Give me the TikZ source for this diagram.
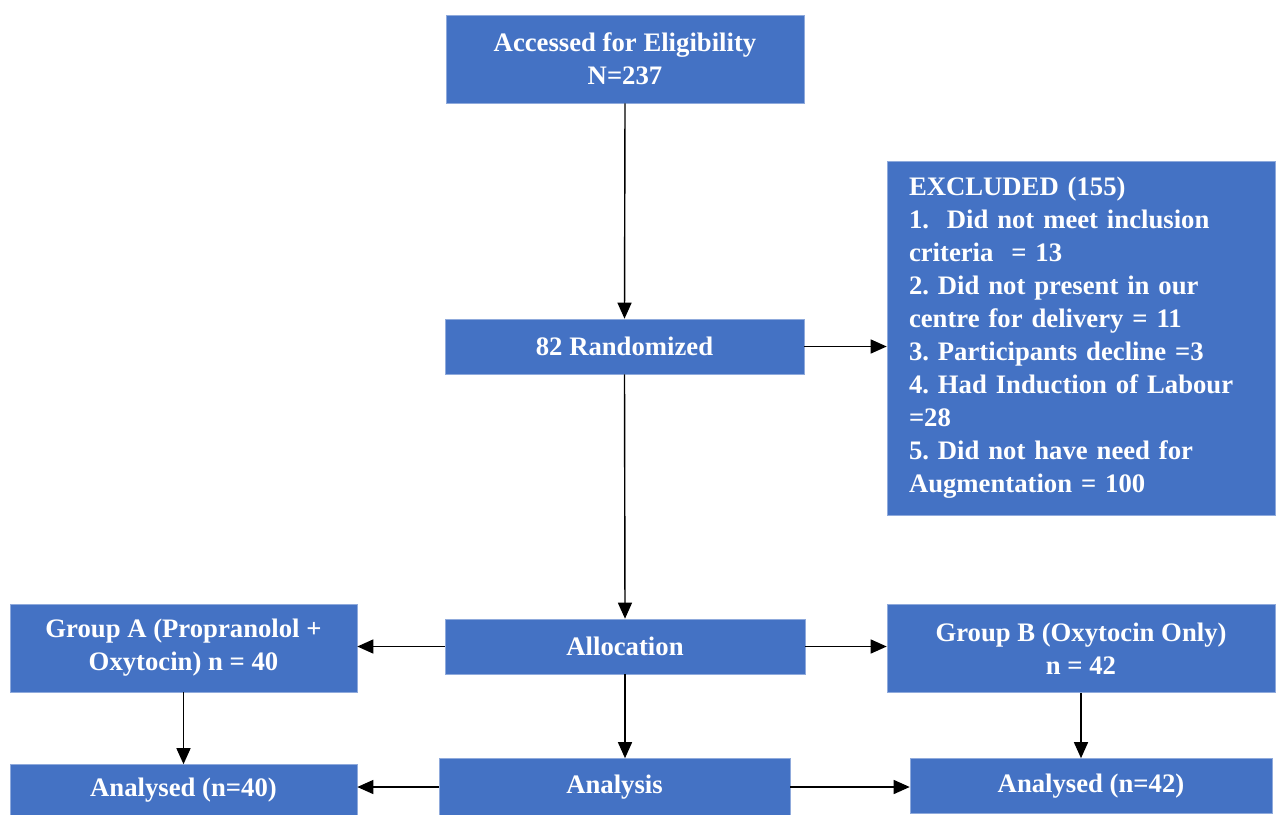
\documentclass[tikz,border=0pt]{standalone}
\usepackage{fontspec}
\setmainfont{Liberation Serif}
\usetikzlibrary{arrows.meta, positioning}
\definecolor{boxblue}{HTML}{4472C4}
\definecolor{boxedge}{HTML}{8FAADC}
\frenchspacing

\begin{document}
\begin{tikzpicture}[x=1pt, y=-1pt,
  font=\fontsize{26.7}{33}\selectfont\bfseries,
  box/.style={rectangle, fill=boxblue, draw=boxedge, line width=0.6pt,
    text=white, align=center, inner sep=0pt},
  arr/.style={-{Triangle[length=16pt, width=14pt]}, line width=1.4pt}]
  \useasboundingbox (0,0) rectangle (1276,814);
  % main column
  \node[box, minimum width=358pt, minimum height=88pt] (acc) at (625,59)
    {Accessed for Eligibility\\N=237};
  \node[box, minimum width=359pt, minimum height=55pt] (rand) at (624.5,346.5)
    {82 Randomized};
  \node[box, minimum width=360pt, minimum height=55pt] (alloc) at (625,646.5)
    {Allocation};
  \node[box, minimum width=351pt, minimum height=57pt] (ana) at (614.5,787)
    {Analysis};
  % exclusions
  \node[box, align=left, text width=344pt, inner xsep=22pt,
    minimum height=354pt] (excl) at (1081,338)
    {EXCLUDED (155)\\
     1.~~Did not meet inclusion\\
     criteria~~= 13\\
     2. Did not present in our\\
     centre for delivery = 11\\
     3. Participants decline =3\\
     4. Had Induction of Labour\\
     =28\\
     5. Did not have need for\\
     Augmentation = 100};
  % groups
  \node[box, minimum width=347pt, minimum height=88pt] (grpA) at (183.5,648)
    {Group A (Propranolol +\\Oxytocin) n = 40};
  \node[box, minimum width=388pt, minimum height=88pt] (grpB) at (1081,648.5)
    {Group B (Oxytocin Only)\\n = 42};
  \node[box, minimum width=347pt, minimum height=51pt] (anaA) at (183.5,790)
    {Analysed (n=40)};
  \node[box, minimum width=362pt, minimum height=55pt] (anaB) at (1091,786)
    {Analysed (n=42)};

  \draw[arr] (acc.south) -- (rand.north);
  \draw[arr] (rand.east) -- (rand.east -| excl.west);
  \draw[arr] (rand.south) -- (alloc.north);
  \draw[arr] (alloc.west) -- (alloc.west -| grpA.east);
  \draw[arr] (alloc.east) -- (alloc.east -| grpB.west);
  \draw[arr] (alloc.south) -- (alloc.south |- ana.north);
  \draw[arr] (grpA.south) -- (anaA.north);
  \draw[arr] (grpB.south) -- (grpB.south |- anaB.north);
  \draw[arr] (ana.west) -- (ana.west -| anaA.east);
  \draw[arr] (ana.east) -- (ana.east -| anaB.west);
\end{tikzpicture}
\end{document}
